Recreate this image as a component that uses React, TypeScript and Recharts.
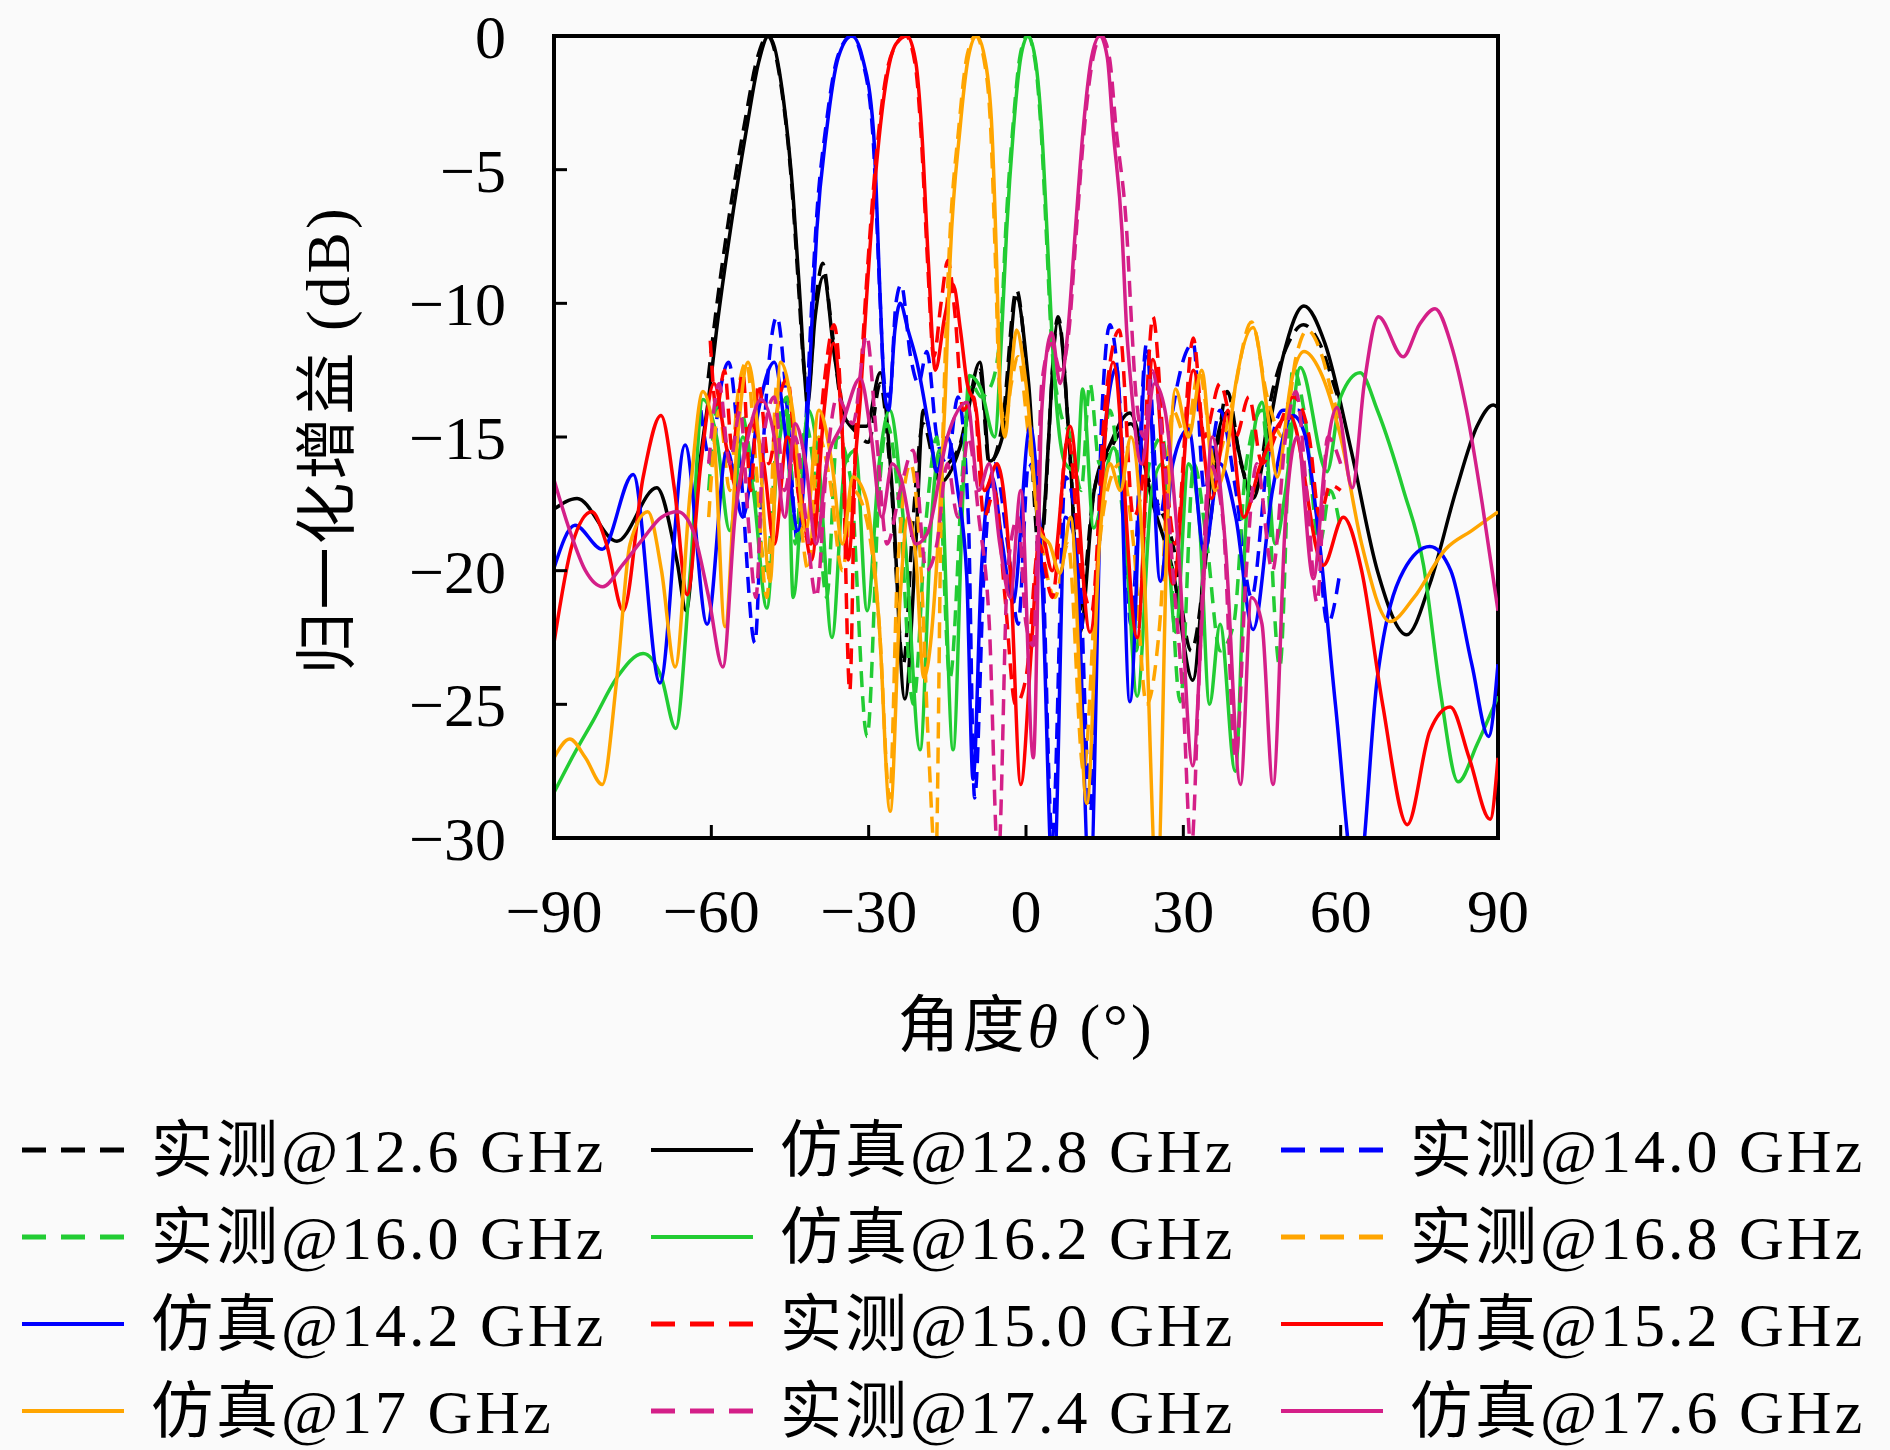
import { LineChart, Line, XAxis, YAxis, ReferenceArea } from "recharts";

document.body.style.margin = "0";
document.body.style.background = "#fafafa";

type Pt = [number, number];

const xTicks = [-90, -60, -30, 0, 30, 60, 90];
const yTicks = [-30, -25, -20, -15, -10, -5, 0];

// 实测@12.6 GHz
const meas126: Pt[] = [
  [-60.6, -12.8], [-59.3, -10.6], [-56.8, -7], [-53.6, -3.2], [-51.2, -0.8], [-49.3, 0], [-46.6, -2],
  [-44.7, -5.5], [-43.4, -9.3], [-42.3, -12.5], [-41.6, -13.3], [-40, -9.8], [-38.8, -8.5], [-37, -11],
  [-35, -14], [-32.5, -14.8], [-30, -15.2], [-27.8, -13], [-25.8, -16.5], [-23.4, -23.5], [-21.5, -18],
  [-19.6, -14.5], [-17, -16.2], [-13, -15.5], [-10.5, -13.5], [-8.8, -12.5], [-7, -16], [-4.5, -14.5],
  [-1.8, -9.5], [0.3, -13], [2.6, -19.5], [6.1, -10.5], [8.5, -16], [10.2, -21.5], [13, -17], [16, -15.5],
  [20, -14.5], [24, -17], [28, -19], [31.5, -23], [35, -18.4], [38.4, -13.3], [41, -16], [43.5, -17],
  [47.1, -13.2], [50, -11.5], [52.9, -10.8], [56, -11.5], [59.3, -13.4], [60, -13.8],
];

// 仿真@12.8 GHz
const sim128: Pt[] = [
  [-90, -17.7], [-85.6, -17.3], [-78, -18.9], [-70.4, -16.9], [-66.5, -19.7], [-64.8, -21.5], [-62.5, -16.5],
  [-60.3, -13.2], [-59, -11], [-56.4, -7.3], [-53.3, -3.5], [-51, -1], [-49.1, 0], [-46.3, -2.3], [-44.4, -6],
  [-43.1, -9.8], [-42.1, -13], [-41.7, -13.8], [-40.2, -10.5], [-38.6, -9], [-36.5, -12], [-34.2, -14.4],
  [-32.3, -14.6], [-30.4, -14.6], [-27.8, -12.6], [-25.5, -17], [-23.1, -24.8], [-21, -19], [-19.6, -14],
  [-16.4, -16.7], [-12, -15], [-8.8, -12.2], [-6.9, -15.9], [-4.5, -15], [-1.8, -9.8], [0.5, -13],
  [2.7, -18.8], [6.1, -10.7], [8.5, -16], [10.3, -22.3], [13, -17], [16, -15.3], [19.8, -14.1], [24.2, -17.5],
  [28, -20], [31.8, -24.1], [35, -17], [38.2, -14.1], [43.3, -17.3], [46, -15], [49, -12], [53, -10.1],
  [57, -11.5], [62, -15.5], [67, -20], [72.6, -22.4], [77, -20.5], [82, -17], [86, -14.6], [89.1, -13.8],
  [90, -13.9],
];

// 实测@14.0 GHz
const meas140: Pt[] = [
  [-62, -14], [-60, -16], [-58.5, -13.5], [-56.7, -12.2], [-54.5, -16], [-51.7, -22.7], [-50, -15],
  [-47.5, -10.5], [-45.5, -14], [-43.5, -19], [-41.6, -13], [-41, -10.6], [-40, -7], [-38.1, -3.3],
  [-35.8, -0.7], [-33.3, 0], [-31.2, -0.9], [-29.2, -3.7], [-27.9, -9.5], [-27, -13], [-26, -13.5],
  [-24.8, -10], [-23.8, -9.3], [-22, -12], [-20.5, -13], [-18.9, -11.8], [-17, -15], [-15, -16],
  [-13, -13.5], [-11, -18], [-9.8, -28.5], [-8, -20], [-6, -16], [-3.5, -19], [-1.5, -22], [0.5, -16],
  [3, -19], [5, -30], [7.5, -16.5], [10, -19], [12.3, -29], [14.5, -14], [16, -10.8], [18, -14], [20, -22],
  [23, -11.5], [25.5, -18], [28, -14], [31.9, -11.5], [34, -17], [37, -14], [40, -17], [43, -21], [46, -16],
  [49, -14], [52, -14], [55, -17], [57.5, -22], [59.9, -20],
];

// 实测@16.0 GHz
const meas160: Pt[] = [
  [-60.5, -17], [-58.5, -13.5], [-56.5, -16], [-54.5, -14], [-52, -16.5], [-49.5, -20], [-47.5, -15],
  [-45.5, -13.5], [-44, -19], [-42, -14.5], [-40, -17], [-38, -21], [-36, -15], [-33.5, -16.5],
  [-30.3, -26.2], [-28, -17], [-26.5, -14.5], [-24, -18], [-21.5, -25], [-19, -18], [-17, -15],
  [-14.5, -24], [-12, -16], [-10.5, -13], [-8.5, -13.5], [-6.5, -13], [-4.7, -10.6], [-3.8, -7],
  [-2.5, -3.4], [-1.1, -0.7], [0.3, 0], [1.7, -0.9], [2.9, -3.6], [3.9, -7.5], [4.8, -11.2], [6.5, -14],
  [8.5, -15], [10.5, -17], [12.2, -13], [14, -16], [16, -14], [18.5, -18], [21, -23], [23.5, -16], [26, -15],
  [29.4, -24.9], [32, -16], [34.5, -19], [37, -23], [39.6, -22], [42, -16], [45, -14], [48.4, -23.6],
  [50.9, -12.4], [53, -14], [56, -19], [58, -17], [60, -18.5],
];

// 仿真@16.2 GHz
const sim162: Pt[] = [
  [-90, -28.3], [-86, -26.8], [-82.5, -25.6], [-78, -24], [-73, -23.1], [-69.5, -24], [-66.8, -25.9],
  [-64, -20], [-61.6, -13.6], [-59, -15], [-56.5, -18.5], [-54, -15], [-52, -17], [-49.4, -21.4],
  [-47.5, -16], [-45.6, -14], [-44.4, -21], [-41.5, -14], [-39.5, -16], [-37, -22.5], [-34.5, -16],
  [-32.5, -15.5], [-30.3, -21.5], [-28, -16], [-26, -14], [-23, -19], [-20.2, -26.7], [-18, -18],
  [-16.5, -15.5], [-13.9, -26.7], [-12, -17], [-10.8, -12.7], [-8.6, -13.2], [-6, -15], [-4.6, -11],
  [-3.7, -7.3], [-2.4, -3.5], [-1, -0.8], [0.4, 0], [1.8, -0.9], [3, -3.5], [4, -7.3], [4.9, -11],
  [5.7, -13.5], [7.5, -16], [9.7, -16.3], [10.8, -13.2], [12.9, -18.4], [16.7, -15.4], [18.5, -17],
  [21.2, -24.7], [24, -17], [26, -16], [28.5, -22.3], [31, -16], [33, -18], [35, -25], [37, -22],
  [39.9, -27.5], [42, -18], [45, -13.7], [47.5, -19], [49.5, -17], [52.3, -12.4], [57.4, -16.3],
  [60, -13.5], [63.7, -12.6], [67, -14], [72, -17], [75.8, -19.8], [79, -24.5], [82.4, -27.9],
  [86, -26.5], [90, -24.7],
];

// 实测@16.8 GHz
const meas168: Pt[] = [
  [-60.5, -18], [-58.5, -14], [-56.5, -17], [-55, -13.5], [-53.3, -12.2], [-51.5, -16], [-49.4, -21],
  [-47.5, -13], [-45.5, -13], [-43.5, -17], [-41.5, -20], [-39.5, -15], [-37.5, -16.5], [-35, -20],
  [-33, -17], [-30.5, -18], [-28, -22], [-26, -28.5], [-24.5, -20], [-22, -16], [-20, -20], [-18.5, -27],
  [-17.2, -31], [-16.2, -18], [-15.6, -13.2], [-14.7, -8.3], [-12.8, -3.4], [-11.2, -0.7], [-9.6, 0],
  [-8, -0.9], [-6.7, -3.6], [-5.8, -8.6], [-5.1, -13], [-4, -14.5], [-2.8, -13], [-1.5, -12], [0.5, -15],
  [3, -19], [5.5, -21], [8, -19], [11, -27.5], [13.5, -20], [15.5, -17], [18, -16], [20.5, -19], [23, -25],
  [25.5, -22], [28, -14], [30.5, -15], [33, -12.5], [36, -16], [39, -14], [43, -10.7], [46, -13.5],
  [49, -15], [51.5, -12], [53.6, -11], [56.5, -12], [58.5, -13.5], [60, -14.4],
];

// 仿真@14.2 GHz
const sim142: Pt[] = [
  [-90, -19.9], [-86, -18.3], [-80.8, -19.2], [-74.9, -16.4], [-69.8, -24.2], [-65, -15.3], [-60.8, -22],
  [-57, -15.5], [-54, -18], [-51, -14], [-48, -12.2], [-45.5, -15.5], [-43.5, -18.5], [-41.5, -13.6],
  [-40.9, -11], [-39.9, -7.3], [-38, -3.5], [-35.8, -0.8], [-33.2, 0], [-31.2, -0.8], [-29.1, -3.5],
  [-27.8, -9.8], [-26.9, -13.5], [-26.2, -14], [-25, -11], [-24, -10], [-22.5, -11], [-20.8, -12.2],
  [-18.2, -15], [-17, -16.3], [-15, -15], [-13, -17], [-11.3, -20.2], [-10.1, -27.8], [-8.5, -20],
  [-6.5, -16.5], [-4.5, -19], [-2.5, -21.2], [0.8, -14.6], [3, -20], [5.2, -32], [7.5, -18], [9.5, -19],
  [12.2, -32], [14.5, -16], [17.3, -12.4], [19.8, -24.9], [23, -12], [25.6, -20.4], [28, -16], [31, -14.7],
  [34, -19.3], [37, -16], [40, -18], [43.3, -22.2], [47, -17], [50.9, -14.2], [53, -14.8], [56, -19],
  [59, -25], [63.1, -32], [67, -24], [72, -20], [77, -19.1], [81, -20], [85, -23.5], [88.2, -26.2],
  [90, -23.5],
];

// 实测@15.0 GHz
const meas150: Pt[] = [
  [-60.2, -11.4], [-59, -14], [-57.5, -12.5], [-56, -15.5], [-54, -12.6], [-52.5, -17], [-51, -13],
  [-49, -16], [-47, -13.5], [-45.5, -12.8], [-43.5, -17], [-41, -19], [-38.5, -13], [-36.6, -10.8],
  [-35, -15], [-33.6, -24.5], [-32.5, -15], [-31.7, -13.2], [-30.5, -9.5], [-28.6, -4.6], [-26.6, -1.4],
  [-25, -0.4], [-22.9, 0], [-21.1, -1.1], [-20, -3.7], [-18.7, -8.7], [-17.6, -12], [-16.2, -10],
  [-14.9, -8.4], [-13.5, -10.5], [-12, -14], [-10, -13.5], [-8, -18], [-6, -17], [-4, -21], [-2, -25],
  [0, -24], [2.5, -19], [5, -21], [8, -15], [10.5, -20], [12.5, -21.5], [15, -14], [17.8, -11], [20.5, -18],
  [22, -17], [24.2, -10.5], [26.5, -16], [28.5, -19], [31.9, -11.3], [34, -15], [37, -13], [40, -15],
  [42.5, -13.5], [45, -16], [47.9, -14.8], [51, -13.5], [54, -15], [56, -18], [58, -16.8], [60, -17],
];

// 仿真@15.2 GHz
const sim152: Pt[] = [
  [-90, -22.7], [-86.5, -19], [-82.8, -17.8], [-80, -19], [-76.8, -21.5], [-73, -16.5], [-69.6, -14.2],
  [-67, -17], [-64.6, -20.9], [-62, -16], [-59.5, -13], [-57, -15.5], [-55, -17], [-52.5, -14.5],
  [-50, -16], [-48, -19], [-45.5, -15], [-43, -17], [-40.9, -19.6], [-38.5, -14], [-36.7, -11.5],
  [-35, -15], [-33.9, -19.6], [-32.4, -15.5], [-31.6, -13.6], [-30.4, -9.8], [-28.5, -4.8], [-26.5, -1.5],
  [-24.8, -0.3], [-22.7, 0], [-21, -1], [-19.9, -3.5], [-18.6, -8.5], [-17.3, -12.5], [-15.5, -10.5],
  [-13.9, -9.3], [-12.5, -11], [-11.3, -12.9], [-9.5, -14], [-7.9, -17], [-5.5, -16], [-3, -20], [-1, -28],
  [1, -23], [2.7, -18.4], [5, -20], [8.4, -14.6], [12.2, -22.3], [16.6, -12.2], [21.2, -22.5],
  [24.2, -12.1], [28, -20.5], [31.9, -12.5], [35.4, -17.3], [38.5, -14], [41.5, -18], [44.6, -16.1],
  [50.3, -14.2], [56.7, -19.8], [60.5, -18], [64, -20], [68, -25], [72.7, -29.5], [77, -26], [80.9, -25.1],
  [84.5, -27], [88.5, -29.3], [90, -27],
];

// 仿真@17 GHz
const sim170: Pt[] = [
  [-90, -27], [-87, -26.3], [-84, -27], [-80.8, -28], [-78, -24], [-75.5, -19], [-72.1, -17.8],
  [-69.5, -20], [-66.9, -23.6], [-64, -17], [-61.6, -13.3], [-59.5, -15], [-57.4, -22.1], [-55, -15],
  [-53, -12.2], [-51, -15], [-48.8, -20.4], [-46.8, -12.2], [-44.5, -14], [-42, -18.5], [-39.5, -14],
  [-37, -16], [-35, -19], [-33, -16.5], [-30.5, -17.3], [-28, -22], [-25.9, -29], [-24, -21], [-22.5, -18],
  [-21, -19.5], [-19.5, -24], [-16.5, -18], [-15.4, -13.5], [-14.5, -8.5], [-12.6, -3.5], [-11, -0.8],
  [-9.4, 0], [-7.8, -0.9], [-6.5, -3.5], [-5.6, -8.5], [-4.9, -13.5], [-4, -15], [-3, -13], [-1.8, -11],
  [0, -13], [2.7, -18.6], [4.5, -19], [6.5, -20.1], [8.5, -18], [11.6, -28.7], [14, -19], [16, -16],
  [18, -17], [20, -15], [22.5, -20], [25, -32], [27, -18], [28.5, -13.2], [31, -15], [33.5, -12.5],
  [36, -17], [38, -16], [40, -13], [43.3, -10.9], [46, -14], [47.9, -16.5], [50.5, -13], [53, -11.8],
  [56, -12.5], [60, -15], [64, -19], [69.4, -21.9], [74, -21], [80, -19.2], [85, -18.5], [90, -17.8],
];

// 实测@17.4 GHz
const meas174: Pt[] = [
  [-60.5, -16], [-58.5, -13], [-56.5, -16], [-54.5, -14], [-53, -18], [-51.5, -21], [-50, -15],
  [-48, -13.5], [-46, -17], [-44, -15], [-42, -18], [-40, -21], [-38, -16], [-36, -13.5], [-33, -14.5],
  [-30.4, -11.2], [-28.5, -15], [-26.5, -19], [-24, -17], [-21.5, -15.5], [-19, -20], [-17, -19],
  [-15, -16], [-13, -18], [-11, -15], [-9, -18], [-7, -22], [-5.3, -31], [-3.5, -20], [-1.5, -18],
  [0, -22], [1.4, -22.8], [3, -13], [4.9, -11.5], [6.5, -12.5], [7.5, -12], [8.2, -11], [9.6, -7.3],
  [11.1, -3.5], [12.8, -0.8], [14.4, 0], [15.9, -0.8], [17.2, -3.5], [19.2, -7.3], [20.2, -11],
  [21, -13.5], [22.5, -15], [24, -12.5], [26, -15], [28, -20], [30, -25], [31.5, -30.5], [33, -24],
  [35, -16], [37.5, -18], [40, -27], [42, -20], [44, -16], [47, -20], [49.5, -15], [51.5, -13.3],
  [53.5, -17], [55.5, -21.2], [57.5, -15], [60, -16],
];

// 仿真@17.6 GHz
const sim176: Pt[] = [
  [-90, -16.6], [-87, -18.5], [-84, -20], [-80.7, -20.6], [-77, -19.8], [-73, -18.8], [-69.5, -18],
  [-66.4, -17.8], [-63.5, -18.5], [-60.5, -21], [-57.8, -23.6], [-55.5, -18], [-53, -15], [-50.5, -13.6],
  [-48, -15], [-46, -18], [-44, -14.5], [-42, -16], [-40, -19], [-38, -16], [-35, -14.5], [-31.6, -12.8],
  [-29.5, -15], [-27.5, -18], [-25.5, -16], [-23.9, -16.5], [-21, -19], [-18.8, -18.6], [-15, -15],
  [-11.2, -13.7], [-9, -17], [-7, -16], [-5, -19], [-3, -21], [-1, -17], [1.4, -27], [3, -14],
  [4.9, -11.1], [6.5, -13], [8, -11], [9.4, -7.3], [10.9, -3.5], [12.5, -0.8], [14.1, 0], [15.5, -0.8],
  [16.6, -3.5], [18.3, -7.3], [19.2, -11], [20, -13], [22, -16], [24.5, -13], [26.5, -14], [29, -19],
  [31.8, -27.3], [33.5, -22], [35.5, -15], [38, -19], [40.9, -28], [43, -21], [45, -22], [47.1, -28],
  [49.5, -18], [51.7, -15], [54.8, -20.3], [57, -16], [59.3, -13.9], [62.2, -16.9], [64.5, -13],
  [67.2, -10.5], [71.9, -12], [75, -10.8], [78, -10.2], [81, -11.5], [84, -14], [87, -17.5], [90, -21.5],
];

const BLACK = "#000000";
const BLUE = "#0000ff";
const GREEN = "#22cc33";
const ORANGE = "#ffa500";
const RED = "#ff0000";
const MAGENTA = "#d41f88";

// legend order, row by row
const series = [
  { name: "实测@12.6 GHz", pts: meas126, color: BLACK, dashed: true },
  { name: "仿真@12.8 GHz", pts: sim128, color: BLACK, dashed: false },
  { name: "实测@14.0 GHz", pts: meas140, color: BLUE, dashed: true },
  { name: "实测@16.0 GHz", pts: meas160, color: GREEN, dashed: true },
  { name: "仿真@16.2 GHz", pts: sim162, color: GREEN, dashed: false },
  { name: "实测@16.8 GHz", pts: meas168, color: ORANGE, dashed: true },
  { name: "仿真@14.2 GHz", pts: sim142, color: BLUE, dashed: false },
  { name: "实测@15.0 GHz", pts: meas150, color: RED, dashed: true },
  { name: "仿真@15.2 GHz", pts: sim152, color: RED, dashed: false },
  { name: "仿真@17 GHz", pts: sim170, color: ORANGE, dashed: false },
  { name: "实测@17.4 GHz", pts: meas174, color: MAGENTA, dashed: true },
  { name: "仿真@17.6 GHz", pts: sim176, color: MAGENTA, dashed: false },
];

const FONT = "'Liberation Serif', 'Noto Sans CJK SC', serif";
const fmt = (v: number) => (v < 0 ? `\u2212${-v}` : `${v}`);

function XTitle() {
  return (
    <text x={1026} y={1047} textAnchor="middle" fontFamily={FONT} fontSize={62} letterSpacing={3} fill="#000">
      <tspan>角度</tspan>
      <tspan fontStyle="italic">θ</tspan>
      <tspan> (°)</tspan>
    </text>
  );
}

function YTitle() {
  return (
    <text
      x={327}
      y={462}
      transform="rotate(-90 327 440)"
      textAnchor="middle"
      fontFamily={FONT}
      fontSize={62}
      letterSpacing={3}
      fill="#000"
    >
      归一化增益 (dB)
    </text>
  );
}

const legendRows = [1150, 1237, 1324, 1411];
const legendCols = [22, 651, 1281];

function LegendBox() {
  return (
    <svg width={1890} height={1450} style={{ position: "absolute", left: 0, top: 0 }}>
      {series.map((s, i) => {
        const x = legendCols[i % 3];
        const y = legendRows[Math.floor(i / 3)];
        return (
          <g key={s.name}>
            <line
              x1={x}
              x2={x + 102}
              y1={y}
              y2={y}
              stroke={s.color}
              strokeWidth={s.dashed ? 5 : 4}
              strokeDasharray={s.dashed ? "24 15" : undefined}
            />
            <text x={x + 129} y={y + 22} fontFamily={FONT} fontSize={62} letterSpacing={3} fill="#000">
              {s.name}
            </text>
          </g>
        );
      })}
    </svg>
  );
}

export default function App() {
  return (
    <div style={{ position: "relative", width: 1890, height: 1450, background: "#fafafa" }}>
      <LineChart width={1890} height={1450} margin={{ top: 36, right: 392, bottom: 512, left: 434 }}>
        <XAxis
          dataKey="x"
          type="number"
          domain={[-90, 90]}
          ticks={xTicks}
          interval={0}
          allowDataOverflow
          tickFormatter={fmt}
          tickSize={-13}
          tickMargin={63}
          height={100}
          axisLine={{ stroke: "#000", strokeWidth: 4 }}
          tickLine={{ stroke: "#000", strokeWidth: 3 }}
          tick={{ fontFamily: FONT, fontSize: 62, fill: "#000" }}
          label={<XTitle />}
        />
        <YAxis
          type="number"
          domain={[-30, 0]}
          ticks={yTicks}
          interval={0}
          allowDataOverflow
          tickFormatter={fmt}
          tickSize={-13}
          tickMargin={61}
          width={120}
          axisLine={{ stroke: "#000", strokeWidth: 4 }}
          tickLine={{ stroke: "#000", strokeWidth: 3 }}
          tick={{ fontFamily: FONT, fontSize: 62, fill: "#000" }}
          label={<YTitle />}
        />
        {series.map((s) => (
          <Line
            key={s.name}
            data={s.pts.map(([x, y]) => ({ x, y }))}
            dataKey="y"
            name={s.name}
            type="monotone"
            stroke={s.color}
            strokeWidth={3.5}
            strokeDasharray={s.dashed ? "16 9" : undefined}
            dot={false}
            activeDot={false}
            isAnimationActive={false}
          />
        ))}
        <ReferenceArea x1={-90} x2={90} y1={-30} y2={0} fill="none" stroke="#000" strokeWidth={4} />
      </LineChart>
      <LegendBox />
    </div>
  );
}
